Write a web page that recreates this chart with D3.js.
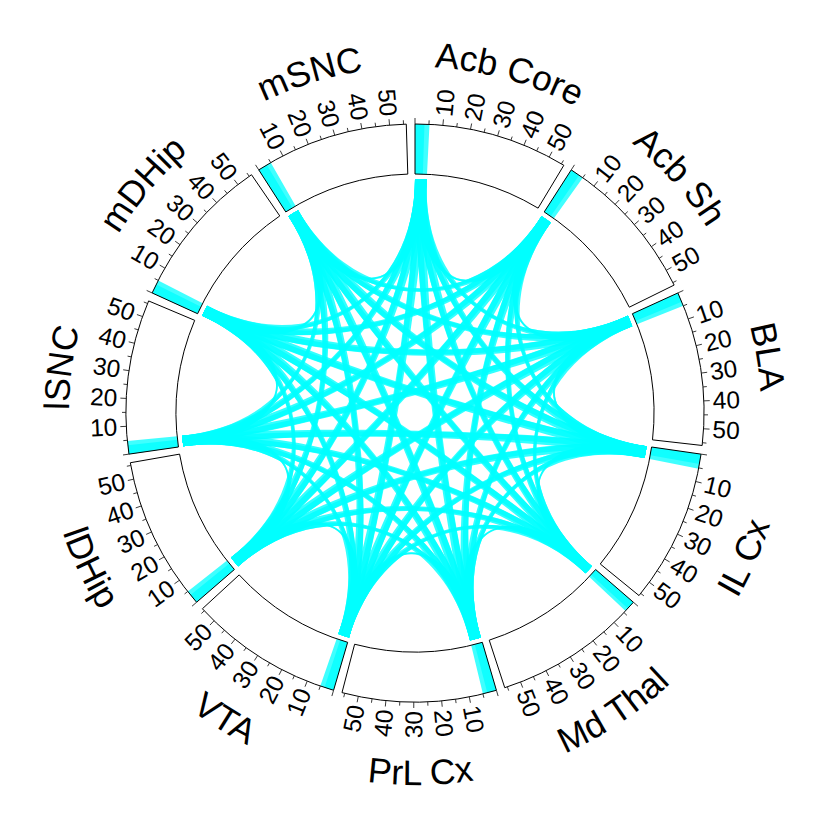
<!DOCTYPE html>
<html><head><meta charset="utf-8">
<script src="https://cdn.jsdelivr.net/npm/d3@7"></script>
<style>body{margin:0;background:#fff}</style>
</head><body>
<svg id="c" width="830" height="830" xmlns="http://www.w3.org/2000/svg"></svg>
<script>
// ---- data ----
const sectors = ["Acb Core","Acb Sh","BLA","IL Cx","Md Thal","PrL Cx","VTA","lDHip","lSNC","mDHip","mSNC"];
const sectorMax = [56,56,56,56,56,56,56,56,56,56,56];
const tickValues = [0,5,10,15,20,25,30,35,40,45,50,55];
const tickLabels = [10,20,30,40,50];
// link-end widths (x units) at each sector: outgoing ends and incoming ends
const outWidth = [5.2,5.0,5.0,5.3,4.2,5.0,5.0,5.0,4.7,5.0,5.0];
const inWidth  = [3.4,3.4,3.4,3.6,3.0,3.4,3.4,3.4,3.2,3.4,3.4];
// connection matrix (row = from, col = to)
const connected = [
 [0,1,1,1,1,1,1,1,1,1,1],
 [1,0,1,1,1,1,1,1,1,1,1],
 [1,1,0,1,1,1,1,1,1,1,1],
 [1,1,1,0,1,1,1,1,1,1,1],
 [1,1,1,1,0,1,1,1,1,1,1],
 [1,1,1,1,1,0,1,1,1,1,1],
 [1,1,1,1,1,1,0,1,1,1,1],
 [1,1,1,1,1,1,1,0,1,1,1],
 [1,1,1,1,1,1,1,1,0,1,1],
 [1,1,1,1,1,1,1,1,1,0,1],
 [1,1,1,1,1,1,1,1,1,1,0]
];

// ---- layout ----
const cx = 415, cy = 413;
const rOuter = 289, rInner = 239, rLink = 234;
const gapDeg = 1.73;
const pull = 0.5;   // control points sit radially inward at pull * radius
const n = sectors.length;
const gap = gapDeg * Math.PI / 180;
const span = (2 * Math.PI - n * gap) / n;
const scales = sectors.map((s, i) => d3.scaleLinear()
  .domain([0, sectorMax[i]])
  .range([i * (span + gap), i * (span + gap) + span]));

const svg = d3.select("#c");
const g = svg.append("g").attr("transform", `translate(${cx},${cy})`);
const pt = (r, a) => [r * Math.sin(a), -r * Math.cos(a)];
const FONT = "'Liberation Sans', Arial, Helvetica, sans-serif";
const linkColor = "#00ffff", linkAlpha = 0.8;

function linkPath(s0, s1, t0, t1, r) {
  const p = d3.path();
  const toCanvas = a => a - Math.PI / 2;
  const edge = (a, b) => {
    const [ax, ay] = pt(r * pull, a), [bx, by] = pt(r * pull, b), [ex, ey] = pt(r, b);
    p.bezierCurveTo(ax, ay, bx, by, ex, ey);
  };
  const [sx0, sy0] = pt(r, s0);
  p.moveTo(sx0, sy0);
  p.arc(0, 0, r, toCanvas(s0), toCanvas(s1), s1 < s0);
  edge(s1, t0);
  p.arc(0, 0, r, toCanvas(t0), toCanvas(t1), t1 < t0);
  edge(t1, s0);
  p.closePath();
  return p.toString();
}

// ---- links ----
const linkData = [];
connected.forEach((row, i) => row.forEach((v, j) => {
  if (v) linkData.push({i, j});
}));
g.append("g").selectAll("path").data(linkData).join("path")
  .attr("d", d => linkPath(scales[d.i](0), scales[d.i](outWidth[d.i]),
                           scales[d.j](0), scales[d.j](inWidth[d.j]), rLink))
  .attr("fill", linkColor).attr("fill-opacity", linkAlpha).attr("stroke", "none");

// ---- blocks in the track ----
const arc = d3.arc();
const blocks = [];
sectors.forEach((s, i) => {
  blocks.push({i, w: outWidth[i]});
  blocks.push({i, w: inWidth[i]});
});
g.append("g").selectAll("path").data(blocks).join("path")
  .attr("d", d => arc({innerRadius: rInner, outerRadius: rOuter,
    startAngle: scales[d.i](0), endAngle: scales[d.i](d.w)}))
  .attr("fill", linkColor).attr("fill-opacity", 0.75);

// ---- track borders ----
g.append("g").selectAll("path").data(sectors).join("path")
  .attr("d", (d, i) => arc({innerRadius: rInner, outerRadius: rOuter,
    startAngle: scales[i](0), endAngle: scales[i](sectorMax[i])}))
  .attr("fill", "none").attr("stroke", "#000").attr("stroke-width", 1);

// ---- ticks & tick labels ----
const axisG = g.append("g");
sectors.forEach((s, i) => {
  tickValues.forEach(v => {
    const a = scales[i](v);
    const major = v % 10 === 0;
    const [x1, y1] = pt(rOuter, a), [x2, y2] = pt(rOuter + (major ? 6 : 4), a);
    axisG.append("line").attr("x1", x1).attr("y1", y1).attr("x2", x2).attr("y2", y2)
      .attr("stroke", "#222").attr("stroke-width", 0.9);
  });
  tickLabels.forEach(v => {
    const a = scales[i](v);
    const deg = a * 180 / Math.PI;
    const [x, y] = pt(rOuter + 9, a);
    const right = deg < 180;
    axisG.append("text")
      .attr("transform", `translate(${x},${y}) rotate(${right ? deg - 90 : deg + 90})`)
      .attr("text-anchor", right ? "start" : "end")
      .attr("dominant-baseline", "central")
      .attr("font-family", FONT).attr("font-size", 24.5)
      .text(v);
  });
});

// ---- sector labels (bent along the circle) ----
const defs = svg.append("defs");
const labG = g.append("g");
sectors.forEach((s, i) => {
  const mid = scales[i](sectorMax[i] / 2);
  const deg = mid * 180 / Math.PI;
  const upper = deg < 90 || deg > 270;
  const r = upper ? 346 : 372;
  const a0 = mid - 0.8, a1 = mid + 0.8;
  let d;
  if (upper) {
    const [x0, y0] = pt(r, a0), [x1, y1] = pt(r, a1);
    d = `M${x0},${y0} A${r},${r} 0 0 1 ${x1},${y1}`;
  } else {
    const [x0, y0] = pt(r, a1), [x1, y1] = pt(r, a0);
    d = `M${x0},${y0} A${r},${r} 0 0 0 ${x1},${y1}`;
  }
  defs.append("path").attr("id", "lab" + i).attr("d", d);
  labG.append("text")
    .attr("font-family", FONT).attr("font-size", 35.5)
    .append("textPath").attr("href", "#lab" + i)
    .attr("startOffset", "50%").attr("text-anchor", "middle")
    .text(s);
});
</script>
</body></html>
